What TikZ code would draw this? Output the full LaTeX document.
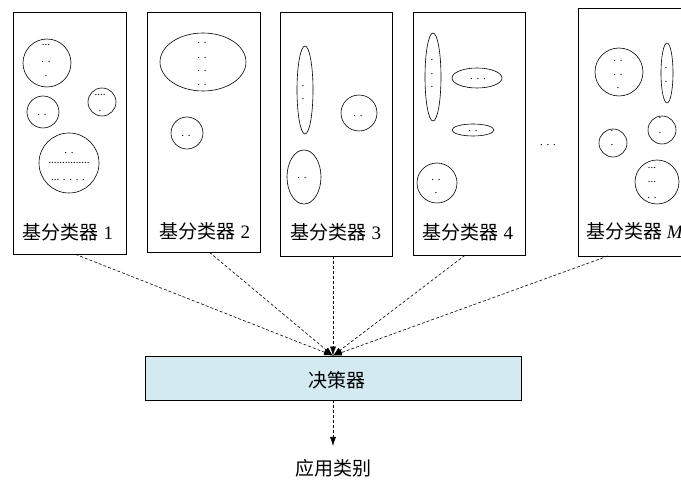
\documentclass[tikz,border=0pt]{standalone}
\usepackage{fontspec}
\setmainfont{Liberation Serif}
\newfontfamily\cjk{Noto Sans CJK SC}
\usetikzlibrary{arrows.meta,shapes.geometric}
\definecolor{decfill}{HTML}{D3EAF0}
\begin{document}
\begin{tikzpicture}[x=1pt,y=-1pt,
  clf/.style={draw,line width=0.7pt,inner sep=0pt},
  blob/.style={draw,ellipse,line width=0.6pt,inner sep=0pt},
  dt/.style={font=\fontsize{11}{11}\selectfont,inner sep=0pt},
  lbl/.style={font=\fontsize{19}{19}\selectfont,inner sep=0pt},
  flow/.style={dash pattern=on 3pt off 2pt, line width=0.6pt, -{Latex[length=9pt,width=6pt]}}]
\useasboundingbox (0,0) rectangle (681,481);
\clip (0,0) rectangle (681,481);
% classifier boxes
\node[clf, minimum width=113pt, minimum height=242pt] (b1) at (69.5,133) {};
\node[clf, minimum width=113pt, minimum height=240pt] (b2) at (203.5,132) {};
\node[clf, minimum width=112pt, minimum height=244pt] (b3) at (336,134) {};
\node[clf, minimum width=112pt, minimum height=243pt] (b4) at (469,133.5) {};
\node[clf, minimum width=122pt, minimum height=248pt] (bM) at (639,132) {};
% labels
\node[lbl] (l1) at (68,232) {{\cjk 基分类器} 1};
\node[lbl] (l2) at (205,231) {{\cjk 基分类器} 2};
\node[lbl] (l3) at (336,232) {{\cjk 基分类器} 3};
\node[lbl] (l4) at (468,232) {{\cjk 基分类器} 4};
\node[lbl, anchor=west] (lM) at (586,231) {{\cjk 基分类器} \textit{M}};
% box 1
\node[blob, minimum width=48pt, minimum height=48pt] (e11) at (47,63) {};
\node[dt] (d111) at (46,45) {...};
\node[dt] (d112) at (46,62) {. .};
\node[dt] (d113) at (46,76) {.};
\node[blob, minimum width=32pt, minimum height=32pt] (e12) at (43,112) {};
\node[dt] (d121) at (42,115) {. .};
\node[blob, minimum width=28pt, minimum height=28pt] (e13) at (102,102) {};
\node[dt] (d131) at (100,95) {....};
\node[dt] (d132) at (100,111) {.};
\node[blob, minimum width=60pt, minimum height=60pt] (e14) at (69,163) {};
\node[dt] (d141) at (69,153) {. .};
\node[dt] (d142) at (69,163) {...............};
\node[dt] (d143) at (68,180) {... . . . .};
% box 2
\node[blob, minimum width=86pt, minimum height=58pt] (e21) at (203,62) {};
\node[dt] (d211) at (202,43) {. .};
\node[dt] (d212) at (202,58) {. .};
\node[dt] (d213) at (202,71) {. .};
\node[dt] (d214) at (202,85) {. .};
\node[blob, minimum width=32pt, minimum height=32pt] (e22) at (187,133) {};
\node[dt] (d221) at (186,136) {. .};
% box 3
\node[blob, minimum width=16pt, minimum height=88pt] (e31) at (305,90) {};
\node[dt] (d311) at (303,86) {.};
\node[dt] (d312) at (303,99) {.};
\node[blob, minimum width=36pt, minimum height=36pt] (e32) at (359,113) {};
\node[dt] (d321) at (358,116) {. .};
\node[blob, minimum width=34pt, minimum height=54pt] (e33) at (304,177) {};
\node[dt] (d331) at (302,178) {. .};
% box 4
\node[blob, minimum width=16pt, minimum height=88pt] (e41) at (433,77) {};
\node[dt] (d411) at (432,60) {.};
\node[dt] (d412) at (432,74) {.};
\node[dt] (d413) at (432,87) {.};
\node[blob, minimum width=50pt, minimum height=20pt] (e42) at (477,78) {};
\node[dt] (d421) at (478,79) {. . .};
\node[blob, minimum width=42pt, minimum height=12pt] (e43) at (473,130) {};
\node[dt] (d431) at (473,131) {. .};
\node[blob, minimum width=40pt, minimum height=40pt] (e44) at (437,183) {};
\node[dt] (d441) at (436,180) {. .};
\node[dt] (d442) at (436,193) {.};
% ellipsis between
\node[dt] (gap) at (548,145) {. . .};
% box M
\node[blob, minimum width=48pt, minimum height=48pt] (eM1) at (619,72) {};
\node[dt] (dM11) at (618,61) {. .};
\node[dt] (dM12) at (618,75) {. .};
\node[dt] (dM13) at (618,88) {.};
\node[blob, minimum width=12pt, minimum height=60pt] (eM2) at (667,73) {};
\node[dt] (dM21) at (666,68) {.};
\node[dt] (dM22) at (666,82) {.};
\node[blob, minimum width=28pt, minimum height=28pt] (eM3) at (613,143) {};
\node[dt] (dM31) at (612,131) {.};
\node[dt] (dM32) at (612,145) {.};
\node[blob, minimum width=28pt, minimum height=28pt] (eM4) at (662,130) {};
\node[dt] (dM41) at (660,118) {.};
\node[dt] (dM42) at (660,133) {.};
\node[blob, minimum width=44pt, minimum height=44pt] (eM5) at (657,182) {};
\node[dt] (dM51) at (652,168) {...};
\node[dt] (dM52) at (652,182) {...};
\node[dt] (dM53) at (652,198) {. .};
% decision box
\node[draw, fill=decfill, line width=0.7pt, minimum width=376pt, minimum height=44pt, inner sep=0pt] (dec) at (333,378) {};
\node[lbl] (dect) at (337,380) {\cjk 决策器};
\node[lbl] (out) at (333,468) {\cjk 应用类别};
\coordinate (outtip) at (333,446);
\coordinate (sM) at (608,256);
% connectors
\draw[flow] ([xshift=6pt]b1.south) -- (dec.north);
\draw[flow] ([xshift=6pt]b2.south) -- (dec.north);
\draw[flow] ([xshift=-3pt]b3.south) -- (dec.north);
\draw[flow] ([xshift=-4pt]b4.south) -- (dec.north);
\draw[flow] (sM) -- (dec.north);
\draw[flow] (dec.south) -- (outtip);
\end{tikzpicture}
\end{document}
